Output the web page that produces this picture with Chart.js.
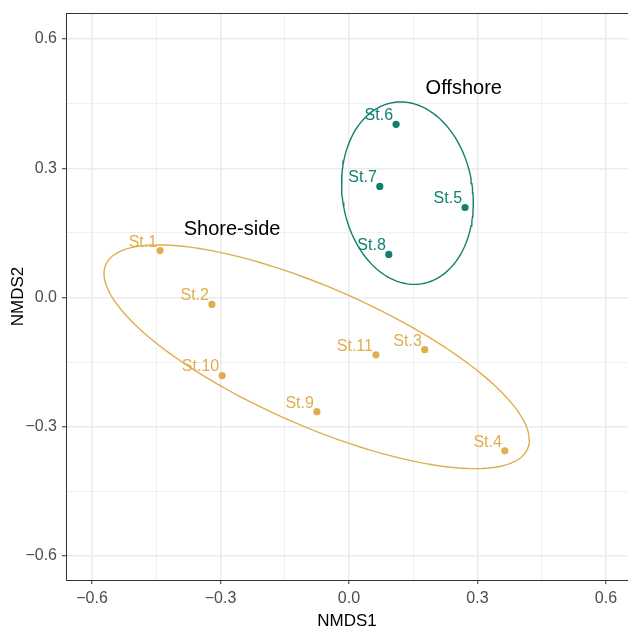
<!DOCTYPE html>
<html>
<head>
<meta charset="utf-8">
<script src="https://cdn.jsdelivr.net/npm/chart.js@4.4.1/dist/chart.umd.min.js"></script>
<style>
  html, body { margin: 0; padding: 0; background: #fff; }
  canvas { display: block; }
</style>
</head>
<body>
<canvas id="myCanvas" width="628" height="630"></canvas>
<script>
'use strict';

// data

const shoreNames = ['St.1', 'St.2', 'St.10', 'St.9', 'St.11', 'St.3', 'St.4'];
const shoreX = [-0.441, -0.320, -0.296, -0.075, 0.063, 0.177, 0.364];
const shoreY = [0.109, -0.016, -0.181, -0.265, -0.133, -0.121, -0.356];

const offNames = ['St.6', 'St.7', 'St.5', 'St.8'];
const offX = [0.110, 0.072, 0.271, 0.093];
const offY = [0.402, 0.258, 0.209, 0.100];

const groupNames = ['Shore-side', 'Offshore'];
const groupLabelX = [-0.273, 0.268];
const groupLabelY = [0.158, 0.486];

const tickValues = [-0.6, -0.3, 0, 0.3, 0.6];
const tickLabels = ['\u22120.6', '\u22120.3', '0.0', '0.3', '0.6'];
const gridValues = [-0.6, -0.45, -0.3, -0.15, 0, 0.15, 0.3, 0.45, 0.6];

// size of the ellipse in standard deviations
const ellipseScale = 1.69;

const gold = '#E0AE4E';
const teal = '#11806F';

//helpers

function toPoints(xs, ys) {
  let pts = [];
  for (let i = 0; i < xs.length; i++) {
    pts.push({ x: xs[i], y: ys[i] });
  }
  return pts;
}

// ellipse from the group's mean and covariance
function groupEllipse(xs, ys) {
  const n = xs.length;
  let mx = 0, my = 0;
  for (let i = 0; i < n; i++) { mx += xs[i]; my += ys[i]; }
  mx /= n; my /= n;
  let a = 0, b = 0, c = 0;
  for (let i = 0; i < n; i++) {
    a += (xs[i] - mx) * (xs[i] - mx);
    b += (xs[i] - mx) * (ys[i] - my);
    c += (ys[i] - my) * (ys[i] - my);
  }
  a /= n - 1; b /= n - 1; c /= n - 1;
  const l11 = Math.sqrt(a);
  const l21 = b / l11;
  const l22 = Math.sqrt(c - l21 * l21);
  let pts = [];
  for (let k = 0; k <= 120; k++) {
    const t = 2 * Math.PI * k / 120;
    const u = Math.cos(t), v = Math.sin(t);
    pts.push({
      x: mx + ellipseScale * (l11 * u),
      y: my + ellipseScale * (l21 * u + l22 * v)
    });
  }
  return pts;
}

const labelPlugin = {
  id: 'labels',
  afterDatasetsDraw(chart) {
    const ctx = chart.ctx;
    const xs = chart.scales.x;
    const ys = chart.scales.y;
    ctx.save();
    ctx.font = '16px "Liberation Sans", Arial, sans-serif';
    ctx.textAlign = 'right';
    ctx.textBaseline = 'alphabetic';
    ctx.fillStyle = gold;
    for (let i = 0; i < shoreNames.length; i++) {
      ctx.fillText(shoreNames[i], xs.getPixelForValue(shoreX[i]) - 3, ys.getPixelForValue(shoreY[i]) - 4);
    }
    ctx.fillStyle = teal;
    for (let i = 0; i < offNames.length; i++) {
      ctx.fillText(offNames[i], xs.getPixelForValue(offX[i]) - 3, ys.getPixelForValue(offY[i]) - 4);
    }
    ctx.font = '20px "Liberation Sans", Arial, sans-serif';
    ctx.textAlign = 'center';
    ctx.textBaseline = 'middle';
    ctx.fillStyle = '#000';
    for (let i = 0; i < groupNames.length; i++) {
      ctx.fillText(groupNames[i], xs.getPixelForValue(groupLabelX[i]), ys.getPixelForValue(groupLabelY[i]));
    }
    // top border of the panel
    const area = chart.chartArea;
    ctx.strokeStyle = '#333';
    ctx.lineWidth = 1;
    ctx.beginPath();
    ctx.moveTo(area.left, area.top + 0.5);
    ctx.lineTo(area.right, area.top + 0.5);
    ctx.stroke();
    ctx.restore();
  }
};

function isMajor(v) {
  return tickValues.some(t => Math.abs(t - v) < 1e-6);
}

function axisOptions(min, max, title, size, titlePadding) {
  return {
    type: 'linear',
    min: min,
    max: max,
    afterBuildTicks(scale) {
      scale.ticks = gridValues.map(v => ({ value: v }));
    },
    afterFit(scale) {
      if (scale.isHorizontal()) {
        scale.height = size;
        scale.paddingLeft = 0;
        scale.paddingRight = 0;
      } else {
        scale.width = size;
        scale.paddingTop = 0;
        scale.paddingBottom = 0;
      }
    },
    ticks: {
      autoSkip: false,
      maxRotation: 0,
      padding: 5,
      color: '#4D4D4D',
      font: { family: '"Liberation Sans", Arial, sans-serif', size: 16 },
      callback(value) {
        const idx = tickValues.findIndex(t => Math.abs(t - value) < 1e-6);
        return idx >= 0 ? tickLabels[idx] : '';
      }
    },
    grid: {
      color: '#EBEBEB',
      lineWidth: ctx => isMajor(ctx.tick.value) ? 1.5 : 0.75,
      tickColor: ctx => isMajor(ctx.tick.value) ? '#333' : 'rgba(0,0,0,0)',
      tickLength: 4,
      tickWidth: 1
    },
    border: { color: '#333', width: 1 },
    title: {
      display: true,
      text: title,
      color: '#000',
      font: { family: '"Liberation Sans", Arial, sans-serif', size: 17, lineHeight: 1 },
      padding: titlePadding
    }
  };
}

const config = {
  type: 'scatter',
  data: {
    datasets: [
      {
        label: 'Offshore',
        data: toPoints(offX, offY),
        backgroundColor: teal,
        borderColor: teal,
        pointRadius: 3.6,
        borderWidth: 0
      },
      {
        label: 'Shore-side',
        data: toPoints(shoreX, shoreY),
        backgroundColor: gold,
        borderColor: gold,
        pointRadius: 3.6,
        borderWidth: 0
      },
      {
        label: 'Offshore ellipse',
        data: groupEllipse(offX, offY),
        showLine: true,
        borderColor: teal,
        borderWidth: 1.4,
        pointRadius: 0,
        tension: 0,
        fill: false
      },
      {
        label: 'Shore-side ellipse',
        data: groupEllipse(shoreX, shoreY),
        showLine: true,
        borderColor: gold,
        borderWidth: 1.4,
        pointRadius: 0,
        tension: 0,
        fill: false
      }
    ]
  },
  options: {
    responsive: false,
    animation: false,
    layout: { autoPadding: false, padding: { top: 13, right: 0, left: 0, bottom: 0 } },
    plugins: {
      legend: { display: false },
      tooltip: { enabled: false }
    },
    scales: {
      x: axisOptions(-0.6607, 0.6515, 'NMDS1', 50, { top: 0, bottom: 0 }),
      y: axisOptions(-0.6558, 0.6605, 'NMDS2', 66, { top: 10, bottom: 0 })
    }
  },
  plugins: [labelPlugin]
};

const chart = document.getElementById('myCanvas');
const myChart = new Chart(chart, config);
</script>
</body>
</html>
